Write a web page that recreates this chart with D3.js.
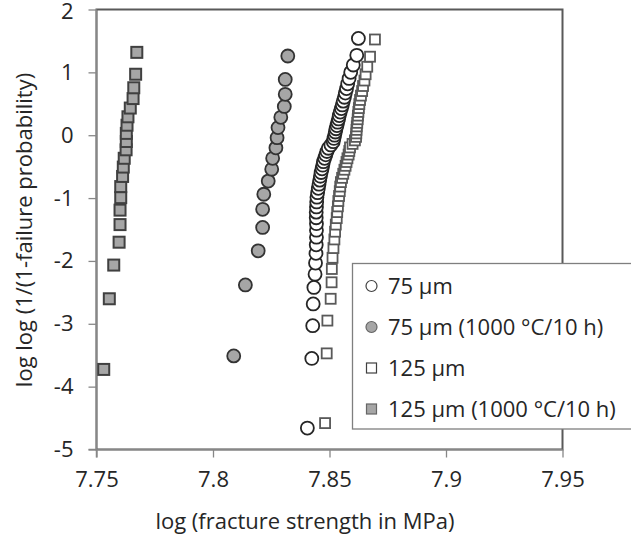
<!DOCTYPE html>
<html>
<head>
<meta charset="utf-8">
<script src="https://cdn.jsdelivr.net/npm/d3@7/dist/d3.min.js"></script>
<style>
  html, body { margin: 0; padding: 0; background: #fff; }
  svg { display: block; }
  text { font-family: "Open Sans", "Noto Sans", sans-serif; fill: #262626; }
</style>
</head>
<body>
<svg id="chart" width="631" height="537"></svg>
<script>
// ---- data ----
const xTicks = [7.75, 7.8, 7.85, 7.9, 7.95];
const xTickLabels = ["7.75", "7.8", "7.85", "7.9", "7.95"];
const yTicks = [-5, -4, -3, -2, -1, 0, 1, 2];
const yTickLabels = ["-5", "-4", "-3", "-2", "-1", "0", "1", "2"];

const seriesNames = ["75 µm", "75 µm (1000 °C/10 h)", "125 µm", "125 µm (1000 °C/10 h)"];

const s75x = [7.8405,7.8424,7.8428,7.8430,7.8433,7.8438,7.8440,7.8442,7.8443,7.8444,
  7.8444,7.8444,7.8443,7.8443,7.8444,7.8445,7.8446,7.8449,7.8452,7.8455,
  7.8458,7.8461,7.8464,7.8468,7.8471,7.8474,7.8479,7.8484,7.8489,7.8495,
  7.8506,7.8516,7.8519,7.8522,7.8525,7.8528,7.8532,7.8535,7.8539,7.8542,
  7.8546,7.8551,7.8555,7.8559,7.8564,7.8568,7.8573,7.8578,7.8584,7.8591,
  7.8602,7.8617,7.8624];
const s75y = [-4.659,-3.551,-3.030,-2.684,-2.422,-2.211,-2.034,-1.880,-1.744,-1.622,
  -1.511,-1.408,-1.313,-1.224,-1.141,-1.062,-0.986,-0.914,-0.846,-0.779,
  -0.715,-0.653,-0.593,-0.535,-0.477,-0.421,-0.367,-0.313,-0.259,-0.207,
  -0.155,-0.103,-0.051,0.000,0.051,0.103,0.154,0.207,0.259,0.313,
  0.368,0.424,0.482,0.542,0.604,0.671,0.741,0.818,0.903,1.000,
  1.117,1.271,1.540];

const h75x = [7.8089,7.8139,7.8194,7.8213,7.8213,7.8218,7.8237,7.8252,7.8256,7.8270,
  7.8275,7.8279,7.8291,7.8306,7.8310,7.8310,7.8321];
const h75y = [-3.511,-2.382,-1.839,-1.467,-1.179,-0.939,-0.730,-0.541,-0.367,-0.201,
  -0.039,0.121,0.285,0.458,0.651,0.887,1.260];

const s125x = [7.8481,7.8488,7.8491,7.8505,7.8509,7.8510,7.8513,7.8517,7.8521,7.8524,
  7.8527,7.8531,7.8533,7.8536,7.8538,7.8541,7.8544,7.8546,7.8549,7.8554,
  7.8559,7.8564,7.8569,7.8573,7.8577,7.8582,7.8585,7.8588,7.8599,7.8609,
  7.8614,7.8615,7.8616,7.8617,7.8619,7.8621,7.8622,7.8624,7.8626,7.8628,
  7.8631,7.8635,7.8640,7.8644,7.8650,7.8655,7.8662,7.8674,7.8695];
const s125y = [-4.580,-3.471,-2.949,-2.602,-2.340,-2.128,-1.950,-1.795,-1.658,-1.535,
  -1.422,-1.319,-1.223,-1.132,-1.047,-0.967,-0.890,-0.817,-0.746,-0.678,
  -0.613,-0.549,-0.487,-0.426,-0.367,-0.308,-0.251,-0.194,-0.138,-0.082,
  -0.026,0.029,0.085,0.141,0.197,0.254,0.312,0.371,0.432,0.495,
  0.561,0.630,0.703,0.783,0.870,0.970,1.090,1.249,1.523];

const h125x = [7.7531,7.7555,7.7574,7.7597,7.7601,7.7601,7.7604,7.7604,7.7612,7.7615,
  7.7619,7.7627,7.7628,7.7628,7.7631,7.7635,7.7645,7.7657,7.7660,7.7668,7.7673];
const h125y = [-3.726,-2.602,-2.066,-1.702,-1.422,-1.192,-0.993,-0.817,-0.656,-0.507,
  -0.367,-0.232,-0.100,0.029,0.159,0.293,0.432,0.583,0.755,0.970,1.318];

// ---- layout ----
const svg = d3.select("#chart");
const L = 96.5, R = 562.5, T = 9.5, B = 449.5;
const FS = "22px";
const x = d3.scaleLinear().domain([7.75, 7.95]).range([L, R]);
const y = d3.scaleLinear().domain([-5, 2]).range([B, T]);

const zip = (xs, ys) => xs.map((v, i) => ({x: v, y: ys[i]}));

const series = [
  {name: seriesNames[0], data: zip(s75x, s75y), shape: "circle", fill: "#ffffff", stroke: "#262626", size: 13, sw: 1.8},
  {name: seriesNames[1], data: zip(h75x, h75y), shape: "circle", fill: "#a6a6a6", stroke: "#333333", size: 13, sw: 1.8},
  {name: seriesNames[2], data: zip(s125x, s125y), shape: "square", fill: "#ffffff", stroke: "#595959", size: 10, sw: 1.8},
  {name: seriesNames[3], data: zip(h125x, h125y), shape: "square", fill: "#a6a6a6", stroke: "#404040", size: 11, sw: 2}
];

// plot border (top/right)
svg.append("rect")
  .attr("x", L).attr("y", T).attr("width", R - L).attr("height", B - T)
  .attr("fill", "none").attr("stroke", "#595959").attr("stroke-width", 2);

// axes
const gx = svg.append("g").attr("transform", `translate(0,${B})`)
  .call(d3.axisBottom(x).tickValues(xTicks).tickSize(8).tickSizeOuter(0).tickPadding(14)
    .tickFormat((d, i) => xTickLabels[i]));
const gy = svg.append("g").attr("transform", `translate(${L},0)`)
  .call(d3.axisLeft(y).tickValues(yTicks).tickSize(8).tickSizeOuter(0).tickPadding(15)
    .tickFormat((d, i) => yTickLabels[i]));
[gx, gy].forEach(g => {
  g.select(".domain").attr("stroke", "#878787").attr("stroke-width", 1.5);
  g.selectAll(".tick line").attr("stroke", "#878787").attr("stroke-width", 1.3);
  g.selectAll(".tick text").style("font-family", "'Open Sans', sans-serif")
    .style("font-size", FS).attr("fill", "#262626");
});
gy.select(".domain").attr("d", `M0,${T}V${B + 8}`);
gx.select(".domain").attr("d", `M${L - 8},0H${R}`);
// keep the top label inside the page
gy.selectAll(".tick text").filter(d => d === 2).attr("dy", "0.36em").attr("y", 1.5);

// points
series.forEach(s => {
  const g = svg.append("g");
  if (s.shape === "circle") {
    g.selectAll("circle").data(s.data).join("circle")
      .attr("cx", d => x(d.x)).attr("cy", d => y(d.y)).attr("r", s.size / 2)
      .attr("fill", s.fill).attr("stroke", s.stroke).attr("stroke-width", s.sw);
  } else {
    g.selectAll("rect").data(s.data).join("rect")
      .attr("x", d => x(d.x) - s.size / 2).attr("y", d => y(d.y) - s.size / 2)
      .attr("width", s.size).attr("height", s.size)
      .attr("fill", s.fill).attr("stroke", s.stroke).attr("stroke-width", s.sw);
  }
});

// legend
const lg = svg.append("g");
lg.append("rect").attr("x", 352.5).attr("y", 263.5).attr("width", 300).attr("height", 165.5)
  .attr("fill", "#ffffff").attr("stroke", "#7f7f7f").attr("stroke-width", 1.3);
const rowY = [286, 327, 368, 409];
series.forEach((s, i) => {
  const cy = rowY[i];
  if (s.shape === "circle") {
    lg.append("circle").attr("cx", 371.5).attr("cy", cy).attr("r", 5.5)
      .attr("fill", s.fill).attr("stroke", i === 0 ? "#404040" : "#666").attr("stroke-width", 1.2);
  } else {
    lg.append("rect").attr("x", 366.5).attr("y", cy - 5).attr("width", 10).attr("height", 10)
      .attr("fill", s.fill).attr("stroke", i === 2 ? "#404040" : "#666").attr("stroke-width", 1.2);
  }
  lg.append("text").attr("x", 388).attr("y", cy).attr("dy", "0.36em")
    .style("font-size", FS).text(s.name);
});

// axis titles
svg.append("text").attr("x", 305).attr("y", 521).attr("dy", "0.36em")
  .attr("text-anchor", "middle").style("font-size", FS)
  .text("log (fracture strength in MPa)");
svg.append("text").attr("transform", "translate(24,230) rotate(-90)")
  .attr("dy", "0.36em").attr("text-anchor", "middle").style("font-size", FS)
  .text("log log (1/(1-failure probability)");
</script>
</body>
</html>
